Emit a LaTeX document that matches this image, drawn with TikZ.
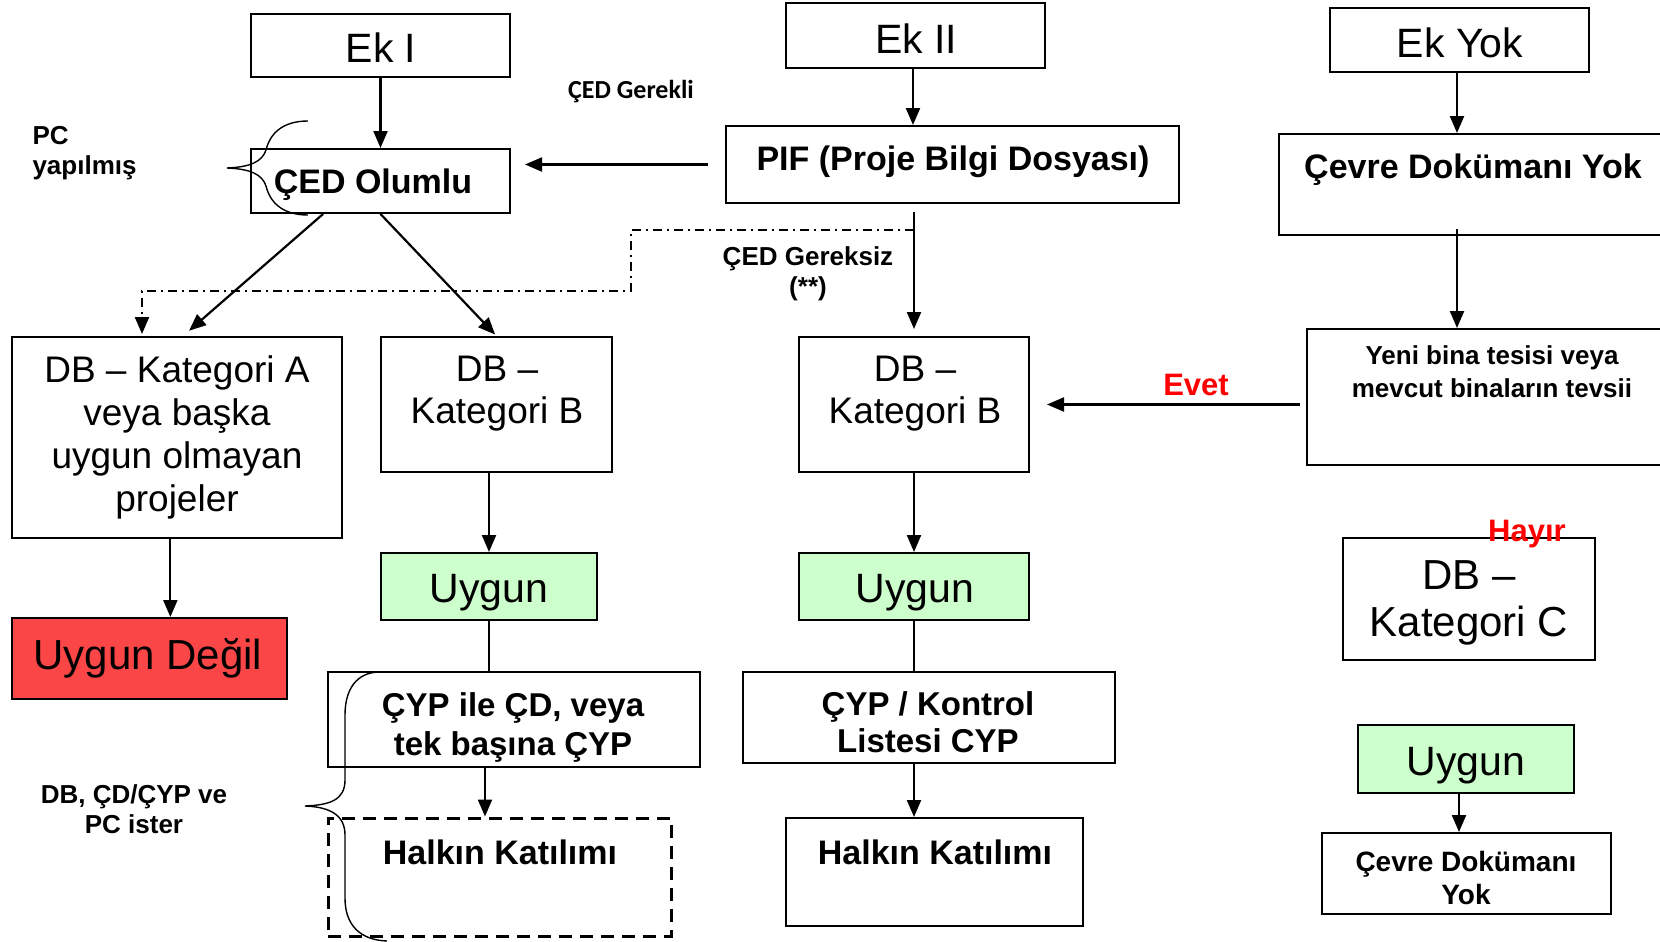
\documentclass[tikz,border=0pt]{standalone}
\usepackage{fontspec}
\setmainfont{Liberation Sans}
\newfontfamily\calfont{Carlito}
\usetikzlibrary{arrows.meta,calc}
\definecolor{udred}{RGB}{250,70,70}
\definecolor{ugreen}{RGB}{204,255,204}
\definecolor{labred}{RGB}{255,0,0}
\newcommand{\fs}[2]{\fontsize{#1}{#2}\selectfont}
\begin{document}
\begin{tikzpicture}[x=1pt,y=-1pt,
  box/.style={draw, line width=2pt, inner sep=0pt},
  arr/.style={-{Triangle[length=17pt,width=14pt]}, line width=2.2pt},
  plain/.style={line width=2.2pt},
  dashdot/.style={line width=1.8pt, dash pattern=on 9pt off 5pt on 2pt off 5pt},
  brace/.style={line width=1.4pt},
  big/.style={font=\fs{41}{47}},
  mid/.style={font=\fs{37}{42}, align=center},
  bold/.style={font=\bfseries\fs{34}{39}, align=center},
  small/.style={font=\bfseries\fs{26}{30}, align=center},
  red/.style={text=labred, font=\bfseries\fs{31}{35}}
]
\useasboundingbox (0,0) rectangle (1660,942);
\fill[white] (0,0) rectangle (1660,942);

% boxes
\node[box, minimum width=259pt, minimum height=63pt] (ek1) at (380.5,45.5) {};
\node[box, minimum width=259pt, minimum height=65pt] (ek2) at (915.5,35.5) {};
\node[box, minimum width=259pt, minimum height=64pt] (ekyok) at (1459.5,40) {};
\node[box, minimum width=259pt, minimum height=64pt] (ced) at (380.5,181) {};
\node[box, minimum width=453pt, minimum height=77pt] (pif) at (952.5,164.5) {};
\node[box, minimum width=391pt, minimum height=101pt] (cdy) at (1474.5,184.5) {};
\node[box, minimum width=363pt, minimum height=136pt] (yeni) at (1488.5,397) {};
\node[box, minimum width=330pt, minimum height=201pt] (dba) at (177,437.5) {};
\node[box, minimum width=231pt, minimum height=135pt] (dbb1) at (496.5,404.5) {};
\node[box, minimum width=230pt, minimum height=135pt] (dbb2) at (914,404.5) {};
\node[box, minimum width=252pt, minimum height=122pt] (dbc) at (1469,599) {};
\node[box, fill=udred, minimum width=275pt, minimum height=81pt] (ud) at (149.5,658.5) {};
\node[box, fill=ugreen, minimum width=216pt, minimum height=67pt] (u1) at (489,586.5) {};
\node[box, fill=ugreen, minimum width=230pt, minimum height=67pt] (u2) at (914,586.5) {};
\node[box, fill=ugreen, minimum width=216pt, minimum height=68pt] (u3) at (1466,759) {};
\node[box, minimum width=372pt, minimum height=95pt] (cyp1) at (514,719.5) {};
\node[box, minimum width=372pt, minimum height=91pt] (cyp2) at (929,717.5) {};
\node[draw, line width=3pt, dash pattern=on 13pt off 8pt, inner sep=0pt, minimum width=343pt, minimum height=118pt] (hk1) at (499.5,877) {};
\node[box, minimum width=297pt, minimum height=108pt] (hk2) at (934.5,872) {};
\node[box, minimum width=289pt, minimum height=81pt] (cdy2) at (1466.5,873.5) {};

% box texts
\node[big] (tek1) at (381,48) {Ek I};
\node[big] (tek2) at (916,39) {Ek II};
\node[big] (tekyok) at (1460,43) {Ek Yok};
\node[bold] (tced) at (373,185) {ÇED Olumlu};
\node[bold] (tpif) at (953,162) {PIF (Proje Bilgi Dosyası)};
\node[bold] (tcdy) at (1473,170) {Çevre Dokümanı Yok};
\node[small, font=\bfseries\fs{26}{33}] (tyeni) at (1492,372) {Yeni bina tesisi veya\\mevcut binaların tevsii};
\node[mid, font=\fs{37}{43}] (tdba) at (177,437) {DB -- Kategori A\\veya başka\\uygun olmayan\\projeler};
\node[mid] (tdbb1) at (497,394) {DB --\\Kategori B};
\node[mid] (tdbb2) at (915,394) {DB --\\Kategori B};
\node[mid, font=\fs{42}{47}] (tdbc) at (1469,603) {DB --\\Kategori C};
\node[big] (tu1) at (489,593) {Uygun};
\node[big] (tu2) at (915,593) {Uygun};
\node[big] (tu3) at (1466,766) {Uygun};
\node[big, font=\fs{42}{47}] (tud) at (148,658) {Uygun Değil};
\node[bold, font=\bfseries\fs{33}{39}] (tcyp1) at (513,727) {ÇYP ile ÇD, veya\\tek başına ÇYP};
\node[bold, font=\bfseries\fs{33}{37}] (tcyp2) at (928,722) {ÇYP / Kontrol\\Listesi CYP};
\node[bold] (thk1) at (500,852) {Halkın Katılımı};
\node[bold] (thk2) at (935,852) {Halkın Katılımı};
\node[small, font=\bfseries\fs{28}{33}] (tcdy2) at (1466,878) {Çevre Dokümanı\\Yok};

% free labels
\node[small, align=left, anchor=west] (tpc) at (29,153) {PC\\yapılmış};
\node[small] (tdbpc) at (134,809) {DB, ÇD/ÇYP ve\\PC ister};
\node[font=\calfont\bfseries\fs{26}{30}] (tgerekli) at (631,92) {ÇED Gerekli};
\node[small] (tgereksiz) at (808,274) {ÇED Gereksiz\\(**)};
\node[red] (tevet) at (1196,385) {Evet};
\node[red] (thayir) at (1527,534) {Hayır};

% connectors
\draw[arr] (ek1.south) -- (ced.north);
\draw[arr] (ek2.south -| 913,0) -- (pif.north -| 913,0);
\draw[arr] (ekyok.south -| 1457,0) -- (cdy.north -| 1457,0);
\draw[arr] ($(cdy.south -| 1457,0)+(0,-7)$) -- (yeni.north -| 1457,0);
\draw[arr, shorten <=17pt, shorten >=14pt] (pif.west) -- (pif.west -| ced.east);
\draw[arr, shorten <=8pt, shorten >=7pt] (dbb2.north |- pif.south) -- (dbb2.north);
\draw[arr, shorten >=8pt] ($(ced.south west)!0.28!(ced.south east)$) -- ([xshift=6pt]dba.north);
\draw[arr, shorten >=2pt] (ced.south) -- (dbb1.north);
\coordinate (dd0) at (914,230);
\coordinate (dd1) at (631,230);
\coordinate (dd2) at (631,291);
\coordinate (dd3) at (142,291);
\draw[dashdot] (dd0) -- (dd1) -- (dd2) -- (dd3) -- ($(dd3 |- dba.north)+(0,-18)$);
\draw[arr, shorten >=2pt] ($(dd3 |- dba.north)+(0,-18)$) -- (dd3 |- dba.north);
\coordinate (dbaout) at ($(dba.south west)!0.48!(dba.south east)$);
\draw[arr] (dbaout) -- (dbaout |- ud.north);
\draw[arr] (u1.north |- dbb1.south) -- (u1.north);
\draw[plain] (u1.south) -- (u1.south |- cyp1.north);
\draw[arr] ([xshift=-4pt]u1.south |- cyp1.south) -- ([xshift=-4pt]u1.south |- hk1.north);
\draw[arr] (dbb2.south) -- (u2.north);
\draw[plain] (u2.south) -- (u2.south |- cyp2.north);
\draw[arr] (u2.south |- cyp2.south) -- (u2.south |- hk2.north);
\draw[arr, shorten <=6pt, shorten >=17pt] (yeni.west |- dbb2.east) -- (dbb2.east);
\draw[arr] ([xshift=-7pt]u3.south) -- ([xshift=-7pt]u3.south |- cdy2.north);

% braces
\draw[brace] (308,121) .. controls (282,121) and (270,134) .. (266,150)
  .. controls (262,162) and (250,167) .. (227,168)
  .. controls (250,169) and (262,174) .. (266,186)
  .. controls (270,202) and (282,215) .. (308,215);
\draw[brace] (380,672) .. controls (356,672) and (345,690) .. (345,715) -- (345,780)
  .. controls (345,800) and (330,805) .. (305,806)
  .. controls (330,807) and (345,815) .. (345,835) -- (345,898)
  .. controls (345,925) and (360,940) .. (387,941);
\end{tikzpicture}
\end{document}
